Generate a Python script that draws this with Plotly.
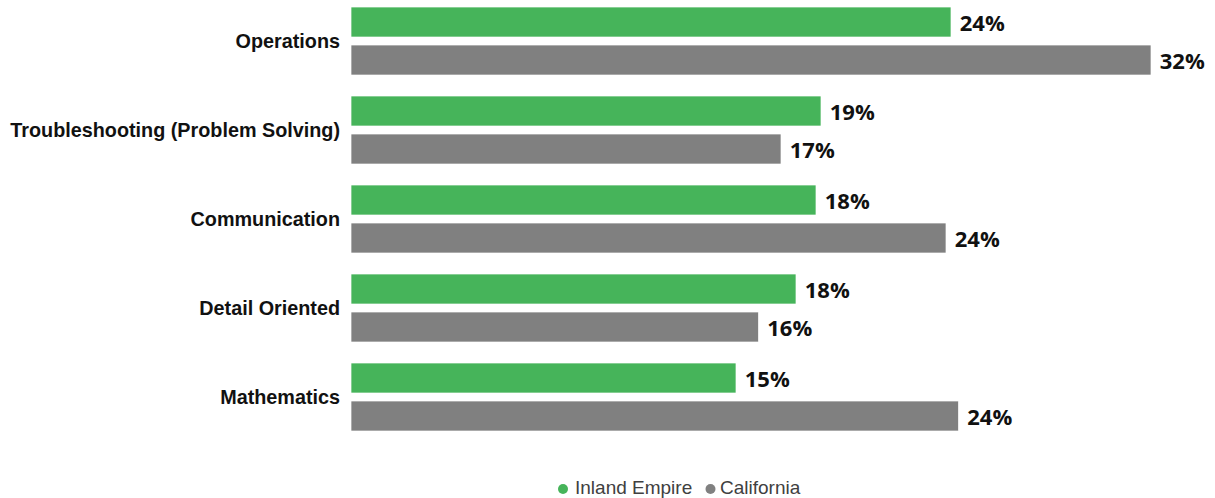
import plotly.graph_objects as go

categories = ["Mathematics", "Detail Oriented", "Communication",
              "Troubleshooting (Problem Solving)", "Operations"]
inland_empire = [15.4, 17.8, 18.6, 18.8, 24.0]
california = [24.3, 16.3, 23.8, 17.2, 32.0]
ie_labels = ["15%", "18%", "18%", "19%", "24%"]
ca_labels = ["24%", "16%", "24%", "17%", "32%"]
series_names = ["Inland Empire", "California"]

GREEN = "#46B45A"
GRAY = "#808080"

# pixel geometry helpers (plot area: x 351..1215, y 0..440)
L, W, H = 351, 864, 440
def px(x):
    return (x - L) / W
def py(y):
    return (H - y) / H

fig = go.Figure()
label_font = dict(family="Open Sans", size=22, color="#111111", weight="bold")

fig.add_trace(go.Bar(
    y=categories, x=california, orientation="h", name=series_names[1],
    marker=dict(color=GRAY, line=dict(color="rgba(255,255,255,0.7)", width=1)),
    text=[" " + t for t in ca_labels], textposition="outside",
    textfont=label_font, cliponaxis=False, showlegend=False,
))
fig.add_trace(go.Bar(
    y=categories, x=inland_empire, orientation="h", name=series_names[0],
    marker=dict(color=GREEN, line=dict(color="rgba(255,255,255,0.7)", width=1)),
    text=[" " + t for t in ie_labels], textposition="outside",
    textfont=label_font, cliponaxis=False, showlegend=False,
))

# custom legend: circle markers + text
legend_items = [(series_names[0], GREEN, 563, 573), (series_names[1], GRAY, 710.5, 718)]
for name, color, cx, tx in legend_items:
    fig.add_shape(type="circle", xref="paper", yref="paper",
                  x0=px(cx - 5), x1=px(cx + 5), y0=py(494), y1=py(484),
                  fillcolor=color, line=dict(width=0))
    fig.add_annotation(text=name, xref="paper", yref="paper", x=px(tx), y=py(487.5),
                       xanchor="left", yanchor="middle", showarrow=False,
                       font=dict(family="Liberation Sans", size=19, color="#404040"))

fig.update_layout(
    width=1215, height=498,
    margin=dict(l=351, r=0, t=0, b=58),
    paper_bgcolor="white", plot_bgcolor="white",
    barmode="group", bargap=0.146, bargroupgap=0.21,
    showlegend=False,
    xaxis=dict(range=[0, 34.56], visible=False, showgrid=False, zeroline=False),
    yaxis=dict(type="category", categoryorder="array", categoryarray=categories,
               range=[-0.483, 4.461], showgrid=False, zeroline=False, showline=False,
               ticks="", ticklabelstandoff=10,
               tickfont=dict(family="Liberation Sans", size=19.8, color="#111111", weight="bold")),
)

fig.write_html("out.html")
